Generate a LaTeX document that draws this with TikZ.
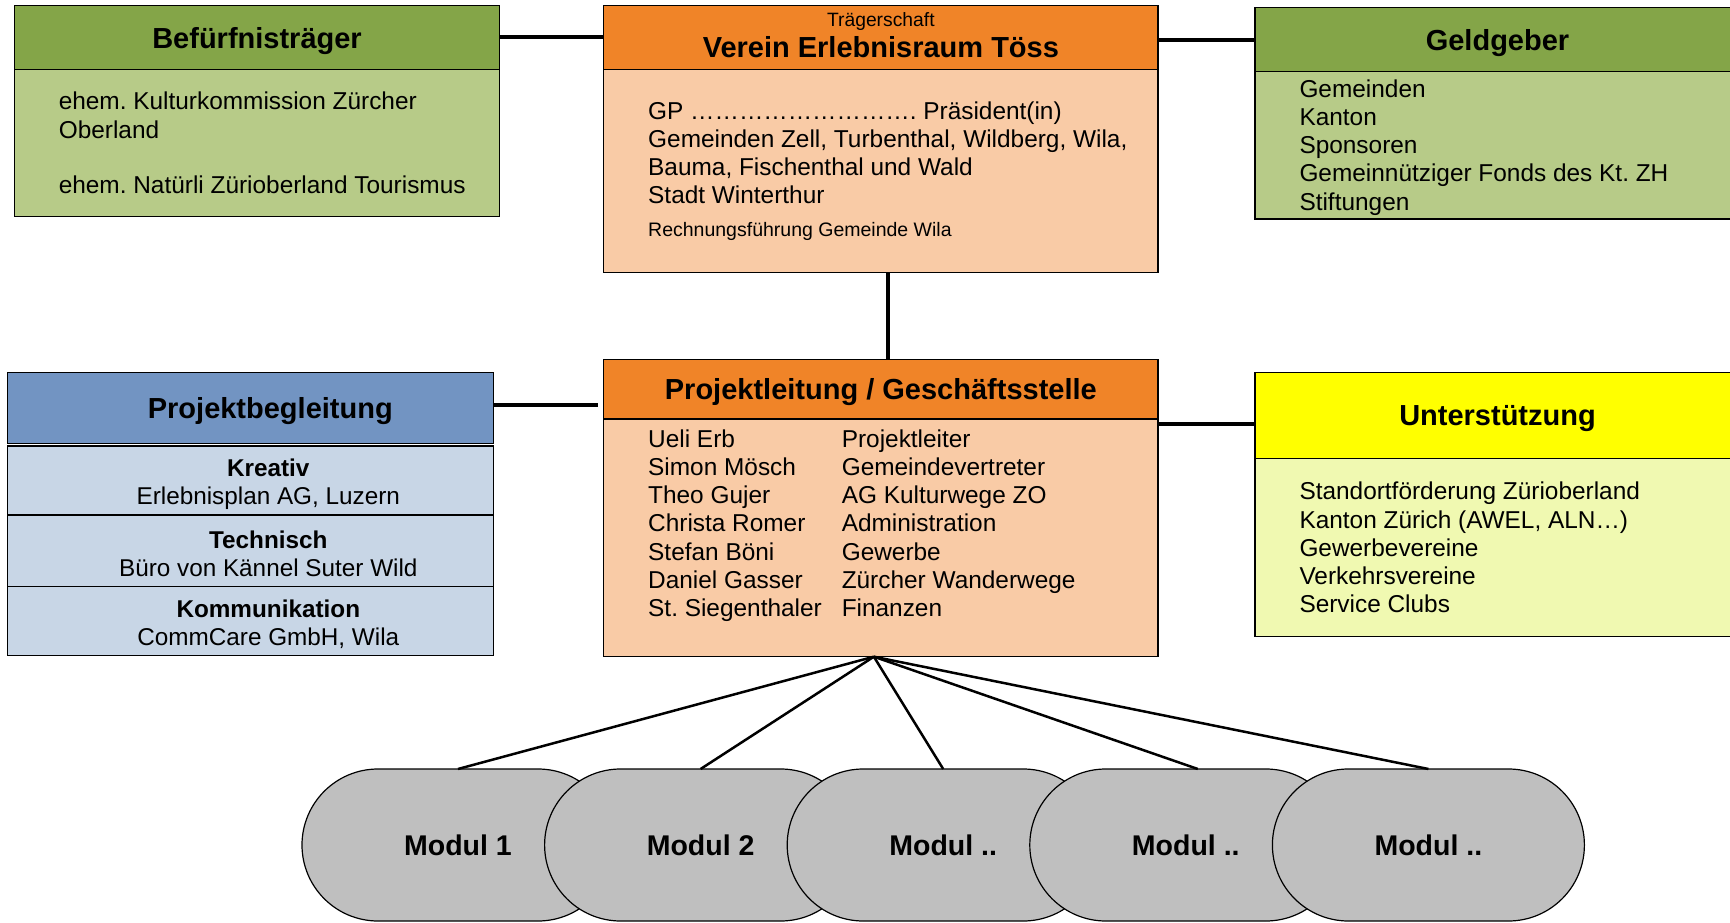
\documentclass[tikz,border=0pt]{standalone}
\usepackage{fontspec}
\setmainfont{Liberation Sans}
\usepackage{tikz}
\usepackage{xcolor}
\definecolor{kopfgruen}{RGB}{132,165,72}
\definecolor{feldgruen}{RGB}{183,203,136}
\definecolor{kopforange}{RGB}{240,132,40}
\definecolor{feldorange}{RGB}{249,203,166}
\definecolor{kopfblau}{RGB}{114,148,194}
\definecolor{feldblau}{RGB}{200,214,230}
\definecolor{kopfgelb}{RGB}{255,255,0}
\definecolor{feldgelb}{RGB}{240,249,177}
\definecolor{modulgrau}{RGB}{191,191,191}
\tikzset{
    head-box/.style = {draw, line width=1.2pt, rectangle, anchor=north west, inner sep=0pt, outer sep=0pt, text depth=0pt, align=center, font=\fontsize{29}{33}\selectfont\bfseries},
    body-box/.style = {draw, line width=1.2pt, rectangle, anchor=north west, inner sep=0pt, outer sep=0pt},
    list-text/.style = {anchor=west, inner sep=0pt, align=left, font=\fontsize{24.4}{28.2}\selectfont},
    sub-box/.style = {draw, line width=1.2pt, fill=feldblau, rectangle, anchor=north west, minimum width=486pt, inner sep=0pt, outer sep=0pt},
    sub-text/.style = {inner sep=0pt, align=center, font=\fontsize{24.3}{27.6}\selectfont},
    modul-box/.style = {draw, line width=1.2pt, fill=modulgrau, rectangle, rounded corners=76pt, minimum width=312pt, minimum height=152pt, outer sep=0pt, font=\fontsize{28.5}{33}\selectfont\bfseries},
    link/.style = {line width=4pt},
    fan-link/.style = {line width=2.5pt},
}

\begin{document}
\frenchspacing
\begin{tikzpicture}[x=1pt, y=-1pt]
\clip (0,0) rectangle (1730,923);

\node[head-box, fill=kopfgruen, minimum width=485.5pt, minimum height=64pt] (bfhead) at (14.3,5.5) {Befürfnisträger};
\node[body-box, fill=feldgruen, minimum width=485.5pt, minimum height=146.8pt] (bfbody) at (bfhead.south west) {};
\node[list-text] (bftext) at ([xshift=44.3pt]bfbody.west) {ehem. Kulturkommission Zürcher\\Oberland\\[27pt]ehem. Natürli Zürioberland Tourismus};

\node[head-box, fill=kopforange, minimum width=554.3pt, minimum height=64pt, text depth=4.4pt, font=\fontsize{29}{30.6}\selectfont\bfseries] (vhead) at (603.7,5.5) {{\fontsize{19.3}{22}\selectfont\mdseries Trägerschaft}\\Verein Erlebnisraum Töss};
\node[body-box, fill=feldorange, minimum width=554.3pt, minimum height=203pt] (vbody) at (vhead.south west) {};
\node[list-text] (vtext) at ([xshift=44.3pt]vbody.west) {GP ………………………. Präsident(in)\\
Gemeinden Zell, Turbenthal, Wildberg, Wila,\\
Bauma, Fischenthal und Wald\\
Stadt Winterthur\\[4.3pt]
{\fontsize{19.5}{23}\selectfont Rechnungsführung Gemeinde Wila}};

\node[head-box, fill=kopfgruen, minimum width=485pt, minimum height=64pt] (ghead) at (1255,7.7) {Geldgeber};
\node[body-box, fill=feldgruen, minimum width=485pt, minimum height=147.3pt] (gbody) at (ghead.south west) {};
\node[list-text] (gtext) at ([xshift=44.3pt, yshift=-2pt]gbody.west) {Gemeinden\\Kanton\\Sponsoren\\Gemeinnütziger Fonds des Kt. ZH\\Stiftungen};

\node[head-box, fill=kopfblau, minimum width=486pt, minimum height=71pt] (pbhead) at (7.3,372.3) {};
\node[head-box, draw=none, anchor=center] (pbtitle) at ([xshift=20pt]pbhead.center) {Projektbegleitung};
\node[sub-box, minimum height=69pt] (kreativ) at (7.3,446) {};
\node[sub-box, minimum height=71.7pt] (technisch) at (kreativ.south west) {};
\node[sub-box, minimum height=69pt] (kommunikation) at (technisch.south west) {};
\node[sub-text] (kreativtext) at ([xshift=18pt, yshift=-4pt]kreativ.center) {\textbf{Kreativ}\\Erlebnisplan AG, Luzern};
\node[sub-text] (technischtext) at ([xshift=18pt, yshift=-3pt]technisch.center) {\textbf{Technisch}\\Büro von Kännel Suter Wild};
\node[sub-text] (kommunikationtext) at ([xshift=18pt, yshift=-3pt]kommunikation.center) {\textbf{Kommunikation}\\CommCare GmbH, Wila};

\node[head-box, fill=kopforange, minimum width=554.3pt, minimum height=59.7pt] (phead) at (603.7,359.3) {Projektleitung / Geschäftsstelle};
\node[body-box, fill=feldorange, minimum width=554.3pt, minimum height=237.7pt] (pbody) at (phead.south west) {};
\node[list-text, anchor=north west] (ptext) at ([xshift=44.3pt, yshift=-8.3pt]pbody.north west) {\begin{tabular}{@{}p{193.6pt}@{}l@{}}
Ueli Erb & Projektleiter\\
Simon Mösch & Gemeindevertreter\\
Theo Gujer & AG Kulturwege ZO\\
Christa Romer & Administration\\
Stefan Böni & Gewerbe\\
Daniel Gasser & Zürcher Wanderwege\\
St. Siegenthaler & Finanzen
\end{tabular}};

\node[head-box, fill=kopfgelb, minimum width=485pt, minimum height=86pt] (uhead) at (1255,372.3) {Unterstützung};
\node[body-box, fill=feldgelb, minimum width=485pt, minimum height=178.4pt] (ubody) at (uhead.south west) {};
\node[list-text] (utext) at ([xshift=44.3pt]ubody.west) {Standortförderung Zürioberland\\Kanton Zürich (AWEL, ALN…)\\Gewerbevereine\\Verkehrsvereine\\Service Clubs};

\draw[link] (bfhead.east) -- (vhead.west);
\draw[link] (vhead.east |- ghead) -- (ghead.west);
\draw[link] ([xshift=7pt]vbody.south) -- ([xshift=7pt]phead.north);
\draw[link, shorten >=6pt] ([yshift=3pt]pbhead.east) -- ([yshift=3pt]pbhead.east -| phead.west);
\coordinate (pu) at ([yshift=-5pt]pbody.north east);
\draw[link] (pu) -- (pu -| uhead.west);

\node[modul-box] (m1) at (458,845) {Modul 1};
\node[modul-box] (m2) at (700.6,845) {Modul 2};
\node[modul-box] (m3) at (943.2,845) {Modul ..};
\node[modul-box] (m4) at (1185.8,845) {Modul ..};
\node[modul-box] (m5) at (1428.4,845) {Modul ..};

\coordinate (fan) at ([xshift=-7pt]pbody.south);
\draw[fan-link] (fan) -- (m1.north);
\draw[fan-link] (fan) -- (m2.north);
\draw[fan-link] (fan) -- (m3.north);
\draw[fan-link] (fan) -- ([xshift=12pt]m4.north);
\draw[fan-link] (fan) -- (m5.north);
\end{tikzpicture}
\end{document}
